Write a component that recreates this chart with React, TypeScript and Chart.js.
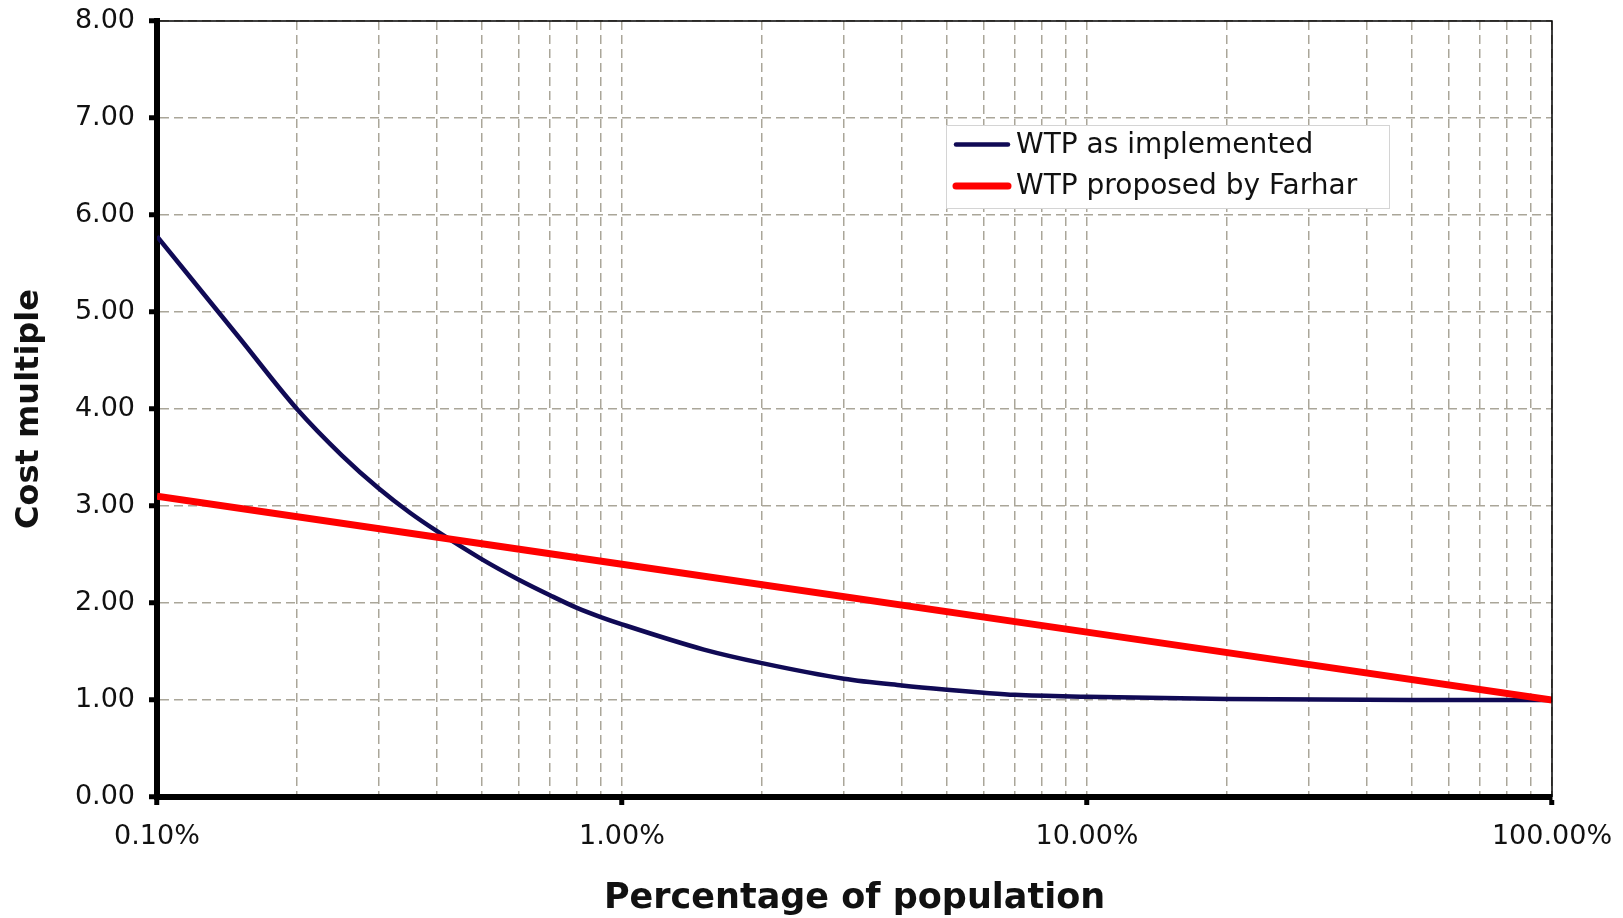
import React, { useEffect, useRef } from 'react';
import { Chart, registerables } from 'chart.js';

Chart.register(...registerables);

// WTP as implemented (x = % of population, y = cost multiple)
const implementedX = [0.1, 0.15, 0.2, 0.25, 0.3, 0.35, 0.4, 0.5, 0.6, 0.7, 0.8, 0.9, 1, 1.5, 2, 3, 4, 5, 6, 7, 10, 20, 50, 100];
const implementedY = [5.78, 4.74, 4.0, 3.52, 3.18, 2.93, 2.74, 2.45, 2.24, 2.08, 1.95, 1.855, 1.78, 1.52, 1.38, 1.22, 1.15, 1.106, 1.075, 1.053, 1.033, 1.01, 1.0, 1.0];

// WTP proposed by Farhar
const farharX = [0.1, 1, 10, 100];
const farharY = [3.1, 2.4, 1.7, 1.0];

const seriesLabels = ['WTP as implemented', 'WTP proposed by Farhar'];

// axis ticks
const xDecades = [0.1, 1, 10, 100];
const xDecadeLabels = ['0.10%', '1.00%', '10.00%', '100.00%'];
const xMinorMultipliers = [1, 2, 3, 4, 5, 6, 7, 8, 9];
const yTickValues = [0, 1, 2, 3, 4, 5, 6, 7, 8];

const FONT = '"DejaVu Sans", "Liberation Sans", Arial, sans-serif';

const xTickValues: number[] = [];
xDecades.forEach((d, i) => {
  if (i === xDecades.length - 1) {
    xTickValues.push(d);
  } else {
    xMinorMultipliers.forEach((m) => xTickValues.push(parseFloat((d * m).toPrecision(6))));
  }
});

const decadeIndex = (v: number) => xDecades.findIndex((d) => Math.abs(d - v) < d * 1e-6);

const framePlugin = {
  id: 'frameAndLegend',
  afterDraw(chart: any) {
    const { ctx, chartArea: a } = chart;
    ctx.save();
    // thin top and right border
    ctx.strokeStyle = '#000';
    ctx.lineWidth = 1.5;
    ctx.beginPath();
    ctx.moveTo(a.left, a.top);
    ctx.lineTo(a.right, a.top);
    ctx.lineTo(a.right, a.bottom);
    ctx.stroke();

    // legend box inside plot
    const bx = a.left + 789;
    const by = a.top + 104;
    const bw = 443;
    const bh = 83;
    ctx.fillStyle = '#ffffff';
    ctx.fillRect(bx, by, bw, bh);
    ctx.strokeStyle = '#d4d4d4';
    ctx.lineWidth = 1;
    ctx.strokeRect(bx + 0.5, by + 0.5, bw, bh);
    chart.data.datasets.forEach((ds: any, i: number) => {
      const y = by + 19.5 + i * 41.5;
      ctx.strokeStyle = ds.borderColor;
      ctx.lineWidth = ds.borderWidth;
      ctx.lineCap = 'round';
      ctx.beginPath();
      ctx.moveTo(bx + 10, y);
      ctx.lineTo(bx + 62, y);
      ctx.stroke();
      ctx.fillStyle = '#111';
      ctx.font = `28px ${FONT}`;
      ctx.textBaseline = 'middle';
      ctx.textAlign = 'left';
      ctx.fillText(ds.label, bx + 70, y + 1);
    });
    ctx.restore();
  },
};

export default function App() {
  const canvasRef = useRef<HTMLCanvasElement | null>(null);

  useEffect(() => {
    document.body.style.margin = '0';
    document.body.style.overflow = 'hidden';
    const canvas = canvasRef.current;
    if (!canvas) return;
    const gridColor = '#aaa699';
    const chart = new Chart(canvas, {
      type: 'line',
      data: {
        datasets: [
          {
            label: seriesLabels[0],
            data: implementedX.map((x, i) => ({ x, y: implementedY[i] })),
            borderColor: '#100a55',
            borderWidth: 4.5,
            pointRadius: 0,
            cubicInterpolationMode: 'monotone',
            fill: false,
            order: 2,
          },
          {
            label: seriesLabels[1],
            data: farharX.map((x, i) => ({ x, y: farharY[i] })),
            borderColor: '#ff0000',
            borderWidth: 7,
            pointRadius: 0,
            tension: 0,
            fill: false,
            order: 1,
          },
        ],
      },
      options: {
        animation: false,
        responsive: false,
        maintainAspectRatio: false,
        layout: { padding: { left: 0, right: 71, top: 21, bottom: 0 } },
        plugins: {
          legend: { display: false },
          tooltip: { enabled: false },
        },
        scales: {
          x: {
            type: 'logarithmic',
            min: 0.1,
            max: 100,
            afterBuildTicks: (scale: any) => {
              scale.ticks = xTickValues.map((v) => ({ value: v, major: decadeIndex(v) >= 0 }));
            },
            afterFit: (scale: any) => {
              scale.height = 121;
              scale.paddingLeft = 0;
              scale.paddingRight = 0;
            },
            ticks: {
              autoSkip: false,
              maxRotation: 0,
              minRotation: 0,
              padding: 16,
              color: '#111',
              font: { family: FONT, size: 27 },
              callback: (value: any) => {
                const i = decadeIndex(Number(value));
                return i >= 0 ? xDecadeLabels[i] : '';
              },
            },
            grid: {
              color: gridColor,
              lineWidth: 1.5,
              drawTicks: true,
              tickLength: 8,
              tickWidth: 5,
              tickColor: (c: any) => (c.tick && decadeIndex(c.tick.value) >= 0 ? '#000' : 'rgba(0,0,0,0)'),
            },
            border: { display: true, color: '#000', width: 6, dash: [9, 5] },
            title: {
              display: true,
              text: 'Percentage of population',
              color: '#111',
              font: { family: FONT, size: 35, weight: 'bold' },
              padding: { top: 0, bottom: -2 },
            },
          },
          y: {
            type: 'linear',
            min: 0,
            max: 8,
            afterBuildTicks: (scale: any) => {
              scale.ticks = yTickValues.map((v) => ({ value: v }));
            },
            afterFit: (scale: any) => {
              scale.width = 157;
              scale.paddingTop = 0;
              scale.paddingBottom = 0;
            },
            ticks: {
              padding: 14,
              color: '#111',
              font: { family: FONT, size: 27 },
              callback: (value: any) => Number(value).toFixed(2),
            },
            grid: {
              color: gridColor,
              lineWidth: 1.5,
              drawTicks: true,
              tickLength: 8,
              tickWidth: 5,
              tickColor: '#000',
            },
            border: { display: true, color: '#000', width: 6, dash: [9, 5] },
            title: {
              display: true,
              text: 'Cost multiple',
              color: '#111',
              font: { family: FONT, size: 32, weight: 'bold' },
              padding: { top: 10, bottom: 0 },
            },
          },
        },
      },
      plugins: [framePlugin],
    } as any);
    return () => chart.destroy();
  }, []);

  return (
    <div style={{ width: 1623, height: 918, background: '#fff' }}>
      <canvas ref={canvasRef} width={1623} height={918} style={{ display: 'block' }} />
    </div>
  );
}
